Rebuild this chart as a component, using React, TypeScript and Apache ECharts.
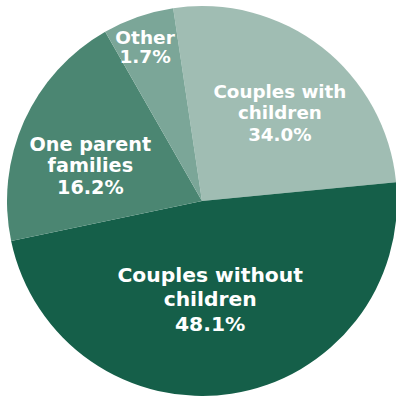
import React, { useEffect, useRef } from "react";
import * as echarts from "echarts";

// Household types, clockwise from the top
const categories = [
  "Couples with\nchildren",
  "Couples without\nchildren",
  "One parent\nfamilies",
  "Other",
];
// Printed percentages (as labelled in the chart)
const labelPercents = [34.0, 48.1, 16.2, 1.7];
// Share of the circle each slice occupies in the picture (%)
const sliceShares = [25.8, 48.2, 20.0, 5.9];

const colors = ["#a0bdb3", "#7ba698", "#4b8672", "#155f49"];
const sliceColors = [colors[0], colors[3], colors[2], colors[1]];
const labelSizes = [18.3, 20.3, 19.2, 18.5];
const labelLineHeights = [21.5, 24.5, 21.5, 19.5];
const labelShift: [number, number][] = [
  [16, -9],
  [-7, -1],
  [-20, 6],
  [-24, -59],
];

export default function App() {
  const ref = useRef<HTMLDivElement>(null);
  useEffect(() => {
    if (!ref.current) return;
    const chart = echarts.init(ref.current, null, { renderer: "svg" });
    chart.setOption({
      animation: false,
      backgroundColor: "#ffffff",
      series: [
        {
          type: "pie",
          center: [202, 201],
          radius: [0, 195],
          startAngle: 98.5,
          clockwise: true,
          avoidLabelOverlap: false,
          itemStyle: { borderWidth: 0 },
          label: {
            show: true,
            position: "inside",
            color: "#ffffff",
            fontFamily: "DejaVu Sans",
            fontWeight: "bold",
            align: "center",
          },
          labelLine: { show: false },
          labelLayout: (p: any) => ({
            dx: labelShift[p.dataIndex][0],
            dy: labelShift[p.dataIndex][1],
          }),
          data: categories.map((name, i) => ({
            name,
            value: sliceShares[i],
            itemStyle: { color: sliceColors[i] },
            label: {
              fontSize: labelSizes[i],
              lineHeight: labelLineHeights[i],
              formatter: () => `${name}\n${labelPercents[i].toFixed(1)}%`,
            },
          })),
        },
      ],
    });
    return () => chart.dispose();
  }, []);
  return (
    <div
      ref={ref}
      style={{ position: "fixed", left: 0, top: 0, width: 396, height: 396 }}
    />
  );
}
